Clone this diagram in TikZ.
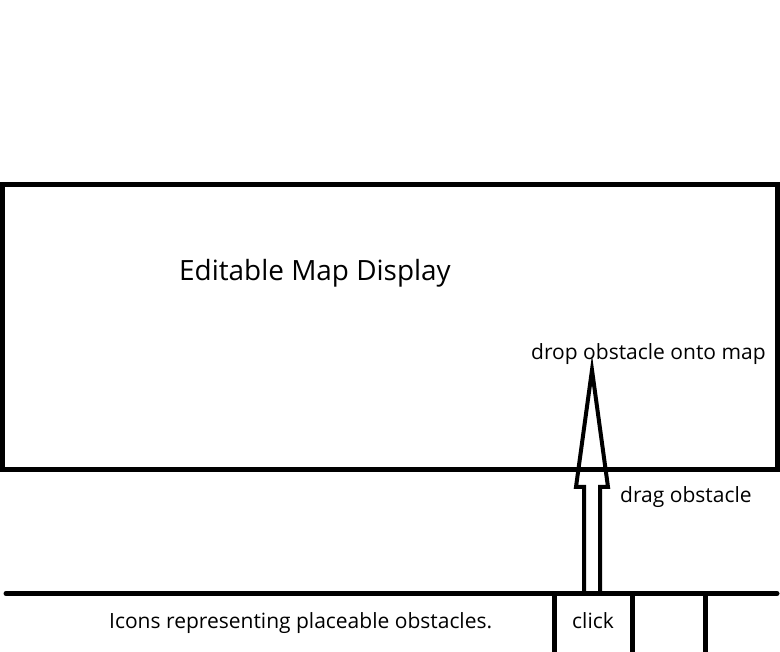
\documentclass[tikz,border=0pt]{standalone}
\usepackage{fontspec}
\setmainfont{Open Sans}
\begin{document}
\begin{tikzpicture}[x=1pt,y=-1pt,
  thick line/.style={line width=5pt},
  arrow line/.style={line width=4pt, line join=miter},
  bigtext/.style={font=\fontsize{27.9}{32}\selectfont, anchor=base west, inner sep=0},
  smalltext/.style={font=\fontsize{21}{25}\selectfont, anchor=base west, inner sep=0}]
\useasboundingbox (0,0) rectangle (780,652);
% map display box
\draw[thick line] (2.5,185) rectangle (777,469.5);
% icon bar
\draw[thick line, line cap=round] (6,593.5) -- (777,593.5);
\coordinate (t1top) at (554.5,593.5);
\coordinate (t1bot) at (554.5,652);
\coordinate (t2top) at (632,593.5);
\coordinate (t2bot) at (632,652);
\coordinate (t3top) at (705.5,593.5);
\coordinate (t3bot) at (705.5,652);
\draw[thick line] (t1top) -- (t1bot);
\draw[thick line] (t2top) -- (t2bot);
\draw[thick line] (t3top) -- (t3bot);
% drag arrow
\draw[arrow line] (584,593.5) -- (584,487) -- (576,487) -- (592,370) -- (608,487) -- (600,487) -- (600,593.5);
% texts
\node[bigtext] (title) at (179,281) {Editable Map Display};
\node[smalltext] (drop) at (531,360) {drop obstacle onto map};
\node[smalltext] (drag) at (620,503) {drag obstacle};
\node[smalltext] (icons) at (109,628) {Icons representing placeable obstacles.};
\node[smalltext] (click) at (572,628) {click};
\end{tikzpicture}
\end{document}
